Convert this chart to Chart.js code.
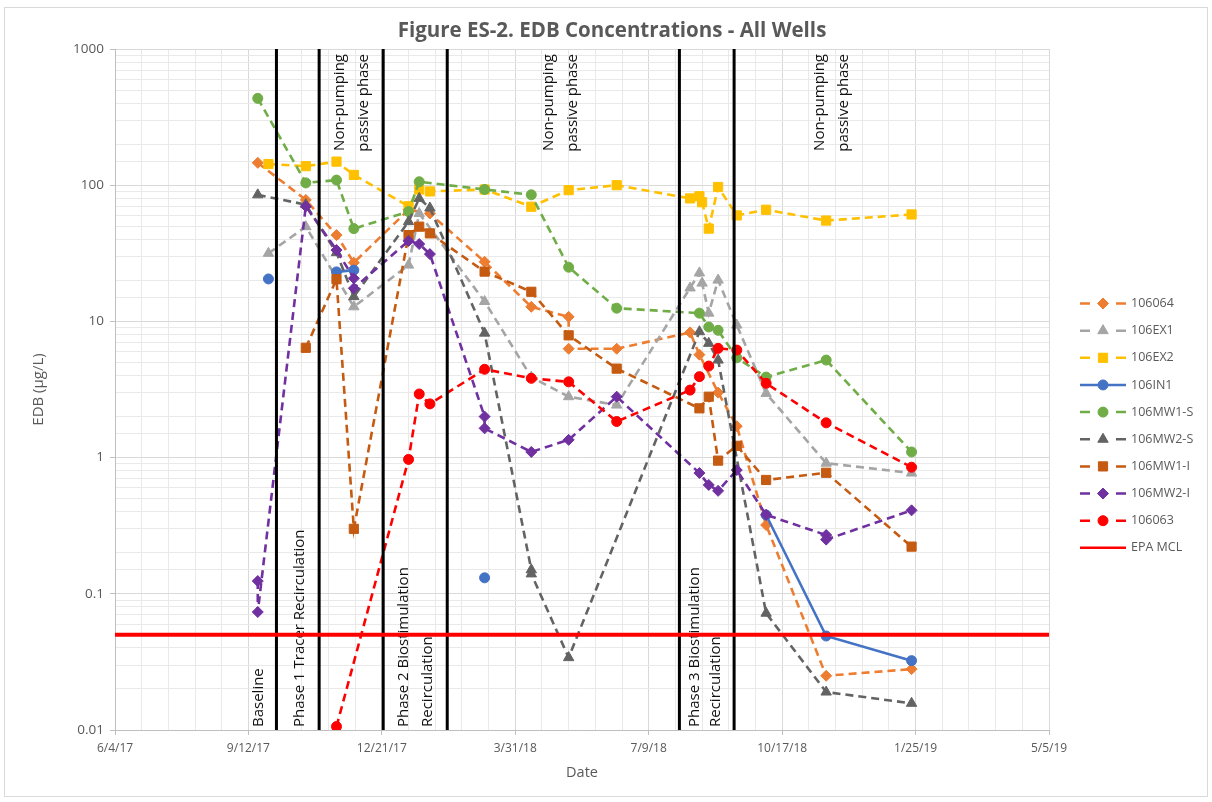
<!DOCTYPE html>
<html>
<head>
<meta charset="utf-8">
<title>EDB Concentrations - All Wells</title>
<script src="https://cdn.jsdelivr.net/npm/chart.js@4.4.1/dist/chart.umd.min.js"></script>
<style>
  html, body { margin: 0; padding: 0; background: #ffffff; }
  #wrap { position: relative; width: 1212px; height: 802px; }
</style>
</head>
<body>
<div id="wrap"><canvas id="edb" width="1212" height="802"></canvas></div>
<script>
// ---- Sampling dates (M/D/YY) and EDB results (µg/L) for each well ----
const dates106064 = ['9/19/17','10/25/17','11/17/17','11/30/17','1/10/18','1/26/18','3/8/18','4/12/18','5/10/18','5/10/18','6/15/18','8/9/18','8/16/18','8/30/18','9/13/18','10/5/18','11/19/18','1/22/19'];
const edb106064   = [146, 78, 43, 27, 66, 62, 27.4, 12.8, 10.8, 6.3, 6.3, 8.3, 5.7, 3.0, 1.7, 0.32, 0.025, 0.028];

const dates106EX1 = ['9/27/17','10/25/17','11/30/17','1/10/18','1/18/18','3/8/18','4/12/18','5/10/18','6/15/18','8/9/18','8/16/18','8/18/18','8/23/18','8/30/18','9/13/18','10/5/18','11/19/18','1/22/19'];
const edb106EX1   = [31.6, 49.6, 12.8, 25.9, 62, 14, 3.9, 2.8, 2.43, 17.6, 22.7, 19.1, 11.5, 20.1, 9.4, 2.96, 0.91, 0.77];

const dates106EX2 = ['9/27/17','10/25/17','11/17/17','11/30/17','1/10/18','1/18/18','1/26/18','3/8/18','4/12/18','5/10/18','6/15/18','8/9/18','8/16/18','8/18/18','8/23/18','8/30/18','9/13/18','10/5/18','11/19/18','1/22/19'];
const edb106EX2   = [143, 138, 149, 119, 70, 93, 90, 93, 69.5, 92, 100, 80, 83, 75, 48, 97, 60, 66, 55, 61];

// null entries are dates with no result, so the line breaks there
const dates106IN1 = ['9/27/17','10/30/17','11/17/17','11/30/17','2/1/18','3/8/18','6/1/18','10/5/18','11/19/18','1/22/19'];
const edb106IN1   = [20.5, null, 23.1, 23.8, null, 0.131, null, 0.379, 0.049, 0.0323];

const dates106MW1S = ['9/19/17','10/25/17','11/17/17','11/30/17','1/10/18','1/18/18','3/8/18','4/12/18','5/10/18','6/15/18','8/16/18','8/23/18','8/30/18','9/13/18','10/5/18','11/19/18','1/22/19'];
const edb106MW1S   = [434, 104, 109, 48, 64, 106, 93, 85, 25, 12.5, 11.5, 9.1, 8.6, 5.4, 3.9, 5.2, 1.1];

const dates106MW2S = ['9/19/17','10/25/17','11/17/17','11/30/17','1/10/18','1/18/18','1/26/18','3/8/18','4/12/18','4/12/18','5/10/18','8/16/18','8/23/18','8/30/18','10/5/18','11/19/18','1/22/19'];
const edb106MW2S   = [85, 72, 32, 15.2, 54, 80, 68, 8.2, 0.15, 0.14, 0.034, 8.4, 6.9, 5.2, 0.072, 0.019, 0.0157];

const dates106MW1I = ['10/25/17','11/17/17','11/30/17','1/10/18','1/18/18','1/26/18','3/8/18','4/12/18','5/10/18','6/15/18','8/16/18','8/23/18','8/30/18','9/13/18','10/5/18','11/19/18','1/22/19'];
const edb106MW1I   = [6.4, 20.4, 0.30, 43, 49.6, 44.3, 23.2, 16.5, 7.9, 4.5, 2.3, 2.8, 0.95, 1.22, 0.685, 0.774, 0.222];

const dates106MW2I = ['9/19/17','9/19/17','10/25/17','11/17/17','11/30/17','11/30/17','1/10/18','1/18/18','1/26/18','3/8/18','3/8/18','4/12/18','5/10/18','6/15/18','8/16/18','8/23/18','8/30/18','9/13/18','10/5/18','11/19/18','11/19/18','1/22/19'];
const edb106MW2I   = [0.124, 0.0735, 70, 33.4, 20.7, 17.5, 39, 37, 31.2, 2.0, 1.64, 1.1, 1.35, 2.8, 0.77, 0.63, 0.57, 0.81, 0.38, 0.27, 0.25, 0.41];

const dates106063 = ['11/17/17','1/10/18','1/18/18','1/26/18','3/8/18','4/12/18','5/10/18','6/15/18','8/9/18','8/16/18','8/23/18','8/30/18','9/13/18','10/5/18','11/19/18','1/22/19'];
const edb106063   = [0.0106, 0.97, 2.93, 2.48, 4.45, 3.82, 3.6, 1.84, 3.13, 3.93, 4.7, 6.34, 6.16, 3.51, 1.8, 0.85];

// EPA maximum contaminant level for EDB (µg/L)
const epaMcl = 0.05;

// Date axis range and tick steps (days)
const axisStart = '6/4/17';
const axisEnd = '5/5/19';
const majorStepDays = 100;
const minorStepDays = 20;

// Concentration axis range (µg/L)
const yMin = 0.01;
const yMax = 1000;

// Start dates of the treatment phases (vertical dividers)
const phaseStarts = ['10/3/17','11/4/17','12/22/17','2/8/18','8/1/18','9/11/18'];

// ---- helpers ----
const EXCEL_EPOCH = Date.UTC(1899, 11, 30);
const DAY = 86400000;
function toSerial(s) {
  const [m, d, y] = s.split('/').map(Number);
  return Math.round((Date.UTC(2000 + y, m - 1, d) - EXCEL_EPOCH) / DAY);
}
function serialToLabel(v) {
  const dt = new Date(EXCEL_EPOCH + v * DAY);
  return (dt.getUTCMonth() + 1) + '/' + dt.getUTCDate() + '/' + String(dt.getUTCFullYear()).slice(2);
}
function isDecade(v) {
  const l = Math.log10(v);
  return Math.abs(l - Math.round(l)) < 1e-6;
}

const FONT = "'Open Sans', 'Liberation Sans', sans-serif";
const TEXT_GRAY = '#595959';
const xMin = toSerial(axisStart);
const xMax = toSerial(axisEnd);

function well(label, dates, values, color, pointStyle, radius, dashed) {
  return {
    label,
    data: dates.map((d, i) => ({ x: toSerial(d), y: values[i] })),
    borderColor: color,
    backgroundColor: color,
    pointBackgroundColor: color,
    pointBorderColor: color,
    pointBorderWidth: 1,
    pointStyle,
    pointRadius: radius,
    pointHoverRadius: radius,
    borderWidth: 2.6,
    borderDash: dashed ? [8, 5] : [],
    spanGaps: false,
    fill: false,
    tension: 0
  };
}

const datasets = [
  well('106064',   dates106064,  edb106064,  '#ED7D31', 'rectRot',  5.5, true),
  well('106EX1',   dates106EX1,  edb106EX1,  '#A5A5A5', 'triangle', 6,   true),
  well('106EX2',   dates106EX2,  edb106EX2,  '#FFC000', 'rect',     6.5, true),
  well('106IN1',   dates106IN1,  edb106IN1,  '#4472C4', 'circle',   5,   false),
  well('106MW1-S', dates106MW1S, edb106MW1S, '#70AD47', 'circle',   5,   true),
  well('106MW2-S', dates106MW2S, edb106MW2S, '#636363', 'triangle', 6,   true),
  well('106MW1-I', dates106MW1I, edb106MW1I, '#C55A11', 'rect',     6.5, true),
  well('106MW2-I', dates106MW2I, edb106MW2I, '#7030A0', 'rectRot',  5.5, true),
  well('106063',   dates106063,  edb106063,  '#FF0000', 'circle',   5,   true),
  {
    label: 'EPA MCL',
    data: [{ x: xMin, y: epaMcl }, { x: xMax, y: epaMcl }],
    borderColor: '#FF0000',
    backgroundColor: '#FF0000',
    borderWidth: 4,
    pointRadius: 0,
    pointHoverRadius: 0,
    borderDash: [],
    fill: false,
    tension: 0
  }
];
// later wells are painted over earlier ones; the MCL line goes on top
datasets.forEach((ds, i) => { ds.order = datasets.length - i; });
const mclIndex = datasets.length - 1;
datasets[mclIndex].order = 0;

// Phase notes: which divider they sit next to, pixel offsets of each text line,
// and whether they hang from the top of the plot or stand on the bottom
const phaseNotes = [
  { line: 0, dx: [-13.5],      lines: ['Baseline'] },
  { line: 0, dx: [27.5],       lines: ['Phase 1 Tracer Recirculation'] },
  { line: 1, dx: [24.5, 48.5], lines: ['Non-pumping', 'passive phase'], top: true },
  { line: 2, dx: [25.3, 48.7], lines: ['Phase 2 Biostimulation', 'Recirculation'] },
  { line: 3, dx: [105.7, 130], lines: ['Non-pumping', 'passive phase'], top: true },
  { line: 4, dx: [19.3, 41],   lines: ['Phase 3 Biostimulation', 'Recirculation'] },
  { line: 5, dx: [90, 114],    lines: ['Non-pumping', 'passive phase'], top: true }
];

function drawPhases(chart) {
  const { ctx, chartArea, scales: { x } } = chart;
  ctx.save();
  ctx.strokeStyle = '#000000';
  ctx.lineWidth = 3;
  phaseStarts.forEach(d => {
    const px = x.getPixelForValue(toSerial(d));
    ctx.beginPath();
    ctx.moveTo(px, chartArea.top);
    ctx.lineTo(px, chartArea.bottom);
    ctx.stroke();
  });
  ctx.fillStyle = '#111111';
  ctx.font = '15px ' + FONT;
  ctx.textBaseline = 'alphabetic';
  phaseNotes.forEach(n => {
    const base = x.getPixelForValue(toSerial(phaseStarts[n.line]));
    n.lines.forEach((t, k) => {
      ctx.save();
      ctx.translate(base + n.dx[k], n.top ? chartArea.top + 5 : chartArea.bottom - 3);
      ctx.rotate(-Math.PI / 2);
      ctx.textAlign = n.top ? 'right' : 'left';
      ctx.fillText(t, 0, 0);
      ctx.restore();
    });
  });
  ctx.restore();
}

function drawMarker(ctx, style, r, x, y) {
  if (Chart.helpers && Chart.helpers.drawPoint) {
    Chart.helpers.drawPoint(ctx, { pointStyle: style, radius: r, borderWidth: 1, rotation: 0 }, x, y);
  }
}

function drawLegend(chart) {
  const ctx = chart.ctx;
  const x0 = 1080, x1 = 1126, xm = 1103, tx = 1131, y0 = 303.5, dy = 27.15;
  chart.data.datasets.forEach((ds, i) => {
    const y = y0 + i * dy;
    ctx.save();
    ctx.strokeStyle = ds.borderColor;
    ctx.lineWidth = 2.5;
    ctx.beginPath();
    if (ds.borderDash && ds.borderDash.length) {
      ctx.moveTo(x0, y); ctx.lineTo(x0 + 10, y);
      ctx.moveTo(x1 - 10, y); ctx.lineTo(x1, y);
    } else {
      ctx.moveTo(x0, y); ctx.lineTo(x1, y);
    }
    ctx.stroke();
    if (ds.pointRadius > 0) {
      ctx.fillStyle = ds.pointBackgroundColor;
      ctx.strokeStyle = ds.pointBorderColor;
      ctx.lineWidth = 1;
      drawMarker(ctx, ds.pointStyle, ds.pointRadius, xm, y);
    }
    ctx.fillStyle = TEXT_GRAY;
    ctx.font = '12.5px ' + FONT;
    ctx.textAlign = 'left';
    ctx.textBaseline = 'middle';
    ctx.fillText(ds.label, tx, y);
    ctx.restore();
  });
}

const decorations = {
  id: 'decorations',
  beforeDraw(chart) {
    const ctx = chart.ctx;
    ctx.save();
    ctx.fillStyle = '#ffffff';
    ctx.fillRect(0, 0, chart.width, chart.height);
    ctx.strokeStyle = '#d9d9d9';
    ctx.lineWidth = 1;
    ctx.strokeRect(4.5, 7.5, 1203, 789);
    ctx.restore();
  },
  beforeDatasetDraw(chart, args) {
    if (args.index === mclIndex) drawPhases(chart);
  },
  afterDraw(chart) {
    const ctx = chart.ctx;
    ctx.save();
    ctx.fillStyle = TEXT_GRAY;
    ctx.font = 'bold 20.5px ' + FONT;
    ctx.textAlign = 'center';
    ctx.textBaseline = 'middle';
    ctx.fillText('Figure ES-2. EDB Concentrations - All Wells', 612, 31);
    ctx.restore();
    drawLegend(chart);
  }
};

Chart.defaults.font.family = FONT;
Chart.defaults.color = TEXT_GRAY;

new Chart(document.getElementById('edb'), {
  type: 'line',
  data: { datasets },
  plugins: [decorations],
  options: {
    responsive: false,
    animation: false,
    devicePixelRatio: 1,
    layout: { padding: { left: 0, right: 163, top: 49, bottom: 0 } },
    plugins: {
      legend: { display: false },
      title: { display: false },
      tooltip: { enabled: false }
    },
    scales: {
      x: {
        type: 'linear',
        min: xMin,
        max: xMax,
        ticks: {
          stepSize: minorStepDays,
          autoSkip: false,
          maxRotation: 0,
          color: TEXT_GRAY,
          font: { size: 12 },
          padding: 6,
          callback: v => ((v - xMin) % majorStepDays === 0 ? serialToLabel(v) : '')
        },
        grid: {
          color: c => ((c.tick.value - xMin) % majorStepDays === 0 ? '#d9d9d9' : '#e9e9e9'),
          tickColor: c => ((c.tick.value - xMin) % majorStepDays === 0 ? '#bfbfbf' : 'rgba(0,0,0,0)'),
          tickLength: 5
        },
        border: { color: '#bfbfbf', width: 1 },
        title: { display: true, text: 'Date', color: TEXT_GRAY, font: { size: 14.5 }, padding: { top: 0, bottom: 20 } },
        afterFit: s => { s.height = 72; }
      },
      y: {
        type: 'logarithmic',
        min: yMin,
        max: yMax,
        ticks: {
          autoSkip: false,
          color: TEXT_GRAY,
          font: { size: 13.5 },
          padding: 6,
          callback: v => (isDecade(v) ? String(v) : '')
        },
        grid: {
          color: c => (isDecade(c.tick.value) ? '#d9d9d9' : '#e9e9e9'),
          tickColor: c => (isDecade(c.tick.value) ? '#bfbfbf' : 'rgba(0,0,0,0)'),
          tickLength: 5
        },
        border: { color: '#bfbfbf', width: 1 },
        title: { display: true, text: 'EDB (µg/L)', color: TEXT_GRAY, font: { size: 15 }, padding: { top: 30, bottom: 0 } },
        afterFit: s => { s.width = 115; }
      }
    }
  }
});
</script>
</body>
</html>
